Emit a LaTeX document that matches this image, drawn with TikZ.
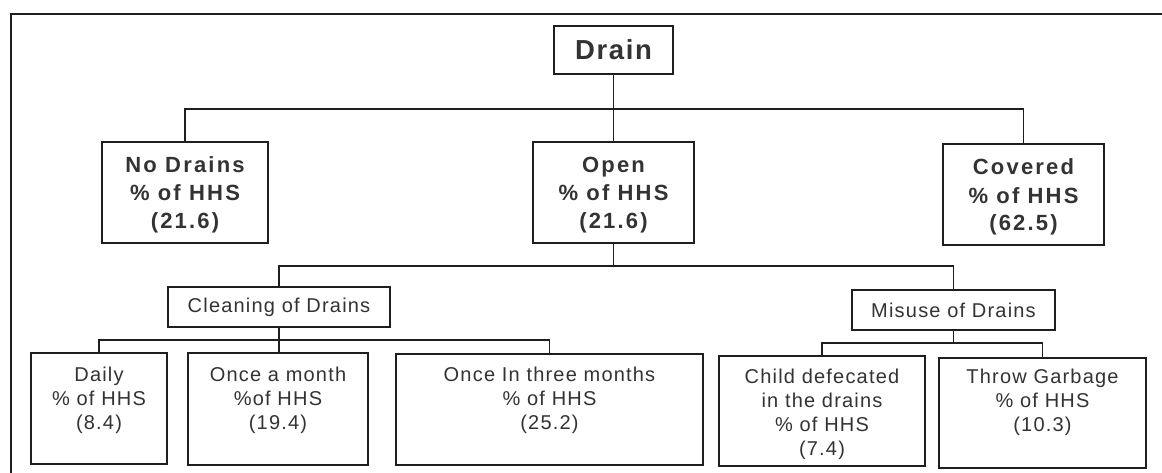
\documentclass[tikz,border=0pt]{standalone}
\usepackage{fontspec}
\setmainfont{Liberation Sans}
% tracked faces for the three levels of the tree
\newfontfamily\rootfont[LetterSpace=6]{Liberation Sans}
\newfontfamily\headfont[LetterSpace=10]{Liberation Sans}
\newfontfamily\leaffont[LetterSpace=6]{Liberation Sans}
\definecolor{ink}{gray}{0.12}
\definecolor{txt}{gray}{0.2}
% fixed-size cell: width, height, first baseline, lines
\newcommand\cellbox[4]{\parbox[c][#2][t]{#1}{\centering\rule{0pt}{#3}\ignorespaces#4\par}}
\tikzset{
  framebox/.style={draw=ink, line width=1.5pt, inner sep=0pt, outer sep=0pt, anchor=north west, text=txt},
  rootbox/.style={framebox, font=\rootfont\bfseries\fontsize{27.5}{32}\selectfont},
  headbox/.style={framebox, font=\headfont\bfseries\fontsize{22}{28}\selectfont},
  labelbox/.style={framebox, font=\leaffont\fontsize{20}{24}\selectfont},
  leafbox/.style={framebox, font=\leaffont\fontsize{20}{24}\selectfont},
  wire/.style={draw=ink, line width=1.3pt},
  border/.style={draw=ink, line width=1.5pt}
}
\begin{document}
\begin{tikzpicture}[x=1pt,y=-1pt]
\useasboundingbox (0,0) rectangle (1162,473);
\fill[white] (0,0) rectangle (1162,473);
\draw[border] (1162,14) -- (11,14) -- (11,473);

% root
\node[rootbox, minimum width=119pt, minimum height=48pt] (drain) at (554,26) {Drain};

% first level
\node[headbox] (nodrains) at (102,142) {\cellbox{166pt}{101pt}{31pt}{No Drains\\\% of HHS\\(21.6)}};
\node[headbox] (open) at (533,142) {\cellbox{161pt}{101pt}{31pt}{Open\\\% of HHS\\(21.6)}};
\node[headbox] (covered) at (943,144) {\cellbox{161pt}{101pt}{31pt}{Covered\\\% of HHS\\(62.5)}};

% second level
\node[labelbox, minimum width=222pt, minimum height=40pt] (cleaning) at (168,287) {Cleaning of Drains};
\node[labelbox, minimum width=203pt, minimum height=40pt] (misuse) at (852,290) {Misuse of Drains};

% leaves
\node[leafbox] (daily) at (31,353) {\cellbox{136pt}{111pt}{28pt}{Daily\\\% of HHS\\(8.4)}};
\node[leafbox] (month) at (188,353) {\cellbox{180pt}{112pt}{28pt}{Once a month\\\%of HHS\\(19.4)}};
\node[leafbox] (three) at (396,354) {\cellbox{307pt}{111pt}{27pt}{Once In three months\\\% of HHS\\(25.2)}};
\node[leafbox] (child) at (719,356) {\cellbox{206pt}{110pt}{27pt}{Child defecated\\in the drains\\\% of HHS\\(7.4)}};
\node[leafbox] (throw) at (939,358) {\cellbox{207pt}{110pt}{25pt}{Throw Garbage\\\% of HHS\\(10.3)}};

% bus lines
\coordinate (busA) at (613,109);
\coordinate (busB) at (613,266);
\coordinate (busC) at (278,340);
\coordinate (busD) at (952,343);

\draw[wire] (drain.south) -- (open.north);
\draw[wire] (nodrains.north) -- (nodrains.north |- busA) -- (covered.north |- busA) -- (covered.north);

\draw[wire] (open.south) -- (open.south |- busB);
\draw[wire] (cleaning.north) -- (cleaning.north |- busB) -- (misuse.north |- busB) -- (misuse.north);

\draw[wire] (cleaning.south) -- (cleaning.south |- month.north);
\draw[wire] (daily.north) -- (daily.north |- busC) -- (three.north |- busC) -- (three.north);

\draw[wire] (misuse.south) -- (misuse.south |- busD);
\draw[wire] (child.north) -- (child.north |- busD) -- (throw.north |- busD) -- (throw.north);
\end{tikzpicture}
\end{document}
